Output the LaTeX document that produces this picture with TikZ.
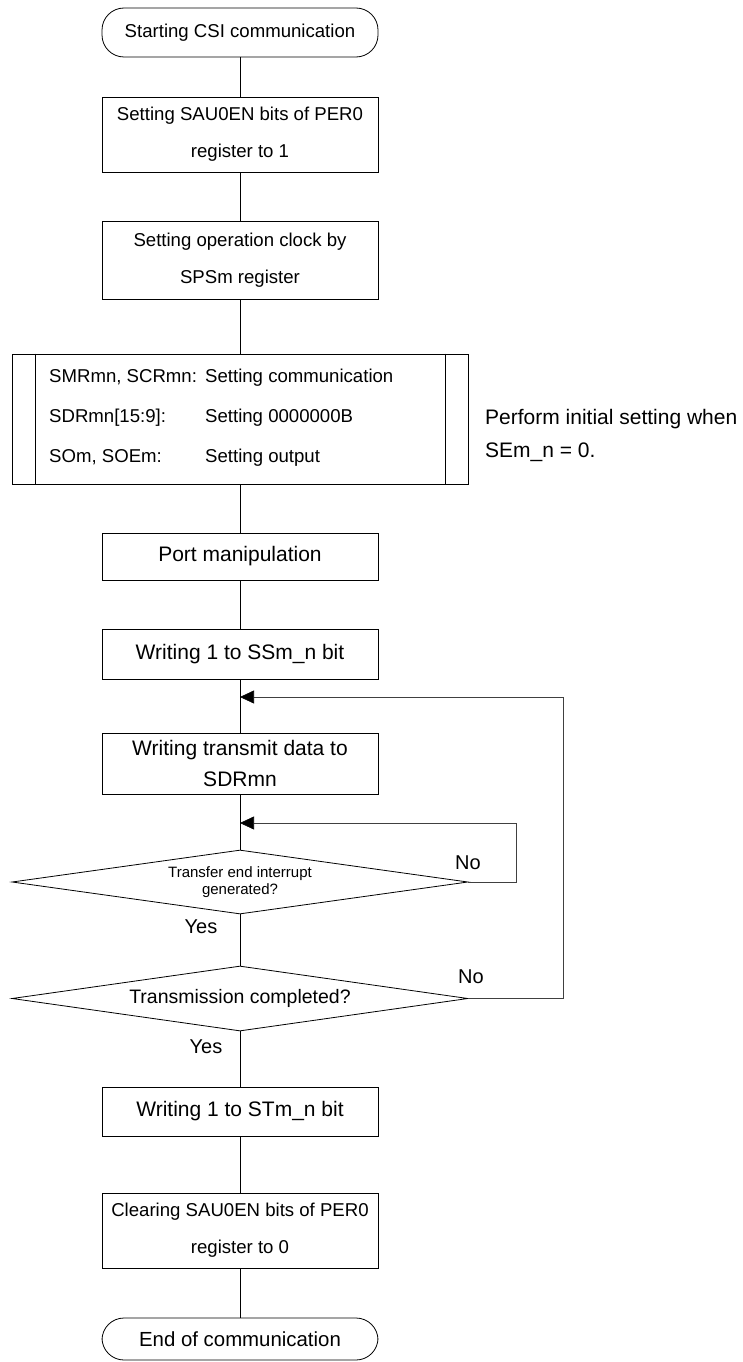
\documentclass[tikz,border=0pt]{standalone}
\usepackage{fontspec}
\setmainfont{Liberation Sans}
\usetikzlibrary{shapes.geometric, arrows.meta}

\begin{document}
\begin{tikzpicture}[
    x=1pt, y=-1pt,
    term/.style={rectangle, rounded corners=22pt, draw, line width=0.8pt,
                 minimum width=276pt, minimum height=49pt, inner sep=0pt,
                 font={\fontsize{18.6}{22}\selectfont}},
    box/.style={rectangle, draw, line width=0.8pt, minimum width=276pt,
                minimum height=49pt, inner sep=0pt, align=center,
                font={\fontsize{21}{31}\selectfont}},
    sbox/.style={box, minimum height=76pt, font={\fontsize{18.6}{37}\selectfont}},
    dec/.style={diamond, aspect=7, draw, line width=0.8pt, minimum width=456pt,
                minimum height=64pt, inner sep=0pt, align=center},
    lbl/.style={inner sep=0pt, font={\fontsize{20}{24}\selectfont}},
    line/.style={line width=0.8pt},
    arr/.style={line width=0.6pt, draw=black!75,
                -{Triangle[length=14pt, width=13pt, color=black]}}
  ]

  \useasboundingbox (0,0) rectangle (743,1362);

  \node[term] (start) at (240,32.5) {Starting CSI communication};
  \node[sbox, minimum height=75pt] (per) at (240,134.5) {Setting SAU0EN bits of PER0\\register to 1};
  \node[sbox, minimum height=78pt] (clk) at (240,260) {Setting operation clock by\\SPSm register};

  % initial setting block
  \node[box, minimum width=456pt, minimum height=130pt] (set) at (240,419) {};
  \draw[line] ([xshift=24pt]set.north west) -- ([xshift=24pt]set.south west);
  \draw[line] ([xshift=-23pt]set.north east) -- ([xshift=-23pt]set.south east);
  \node[anchor=west, align=left, inner sep=0pt, font={\fontsize{18.6}{40}\selectfont}] (settxt) at (49,418)
    {\makebox[156pt][l]{SMRmn, SCRmn:}Setting communication\\
     \makebox[156pt][l]{SDRmn[15:9]:}Setting 0000000B\\
     \makebox[156pt][l]{SOm, SOEm:}Setting output};
  \node[lbl, anchor=west, align=left, font={\fontsize{21}{33}\selectfont}] (note) at (485,435.5)
    {Perform initial setting when\\SEm\_n = 0.};

  \node[box, minimum height=47pt] (port) at (240,556.5) {Port manipulation};
  \node[box, minimum height=50pt] (ssm) at (240,654) {Writing 1 to SSm\_n bit};
  \node[box, minimum height=61pt] (xmit) at (240,763.5) {Writing transmit data to\\SDRmn};
  \node[dec, font={\fontsize{15}{17}\selectfont}] (intr) at (240,882) {Transfer end interrupt\\generated?};
  \node[dec, minimum height=65pt, font={\fontsize{19.5}{23}\selectfont}] (done) at (240,998.5) {Transmission completed?};
  \node[box, minimum height=49pt] (stm) at (240,1111.5) {Writing 1 to STm\_n bit};
  \node[sbox, minimum height=75pt] (clr) at (240,1230.5) {Clearing SAU0EN bits of PER0\\register to 0};
  \node[term, minimum height=42pt, font={\fontsize{20.4}{24}\selectfont}] (end) at (240,1339) {End of communication};

  \node[lbl] (no1) at (468,863) {No};
  \node[lbl] (yes1) at (201,927) {Yes};
  \node[lbl] (no2) at (471,977) {No};
  \node[lbl] (yes2) at (206,1047) {Yes};

  \foreach \a/\b in {start/per, per/clk, clk/set, set/port, port/ssm, ssm/xmit,
                     xmit/intr, intr/done, done/stm, stm/clr, clr/end}
    \draw[line] (\a) -- (\b);

  % loops back
  \coordinate (j1) at (240,823);
  \coordinate (j2) at (240,697);
  \draw[arr] (intr.east) -- ++(48,0) |- (j1);
  \draw[arr] (done.east) -- ++(95,0) |- (j2);

\end{tikzpicture}
\end{document}
